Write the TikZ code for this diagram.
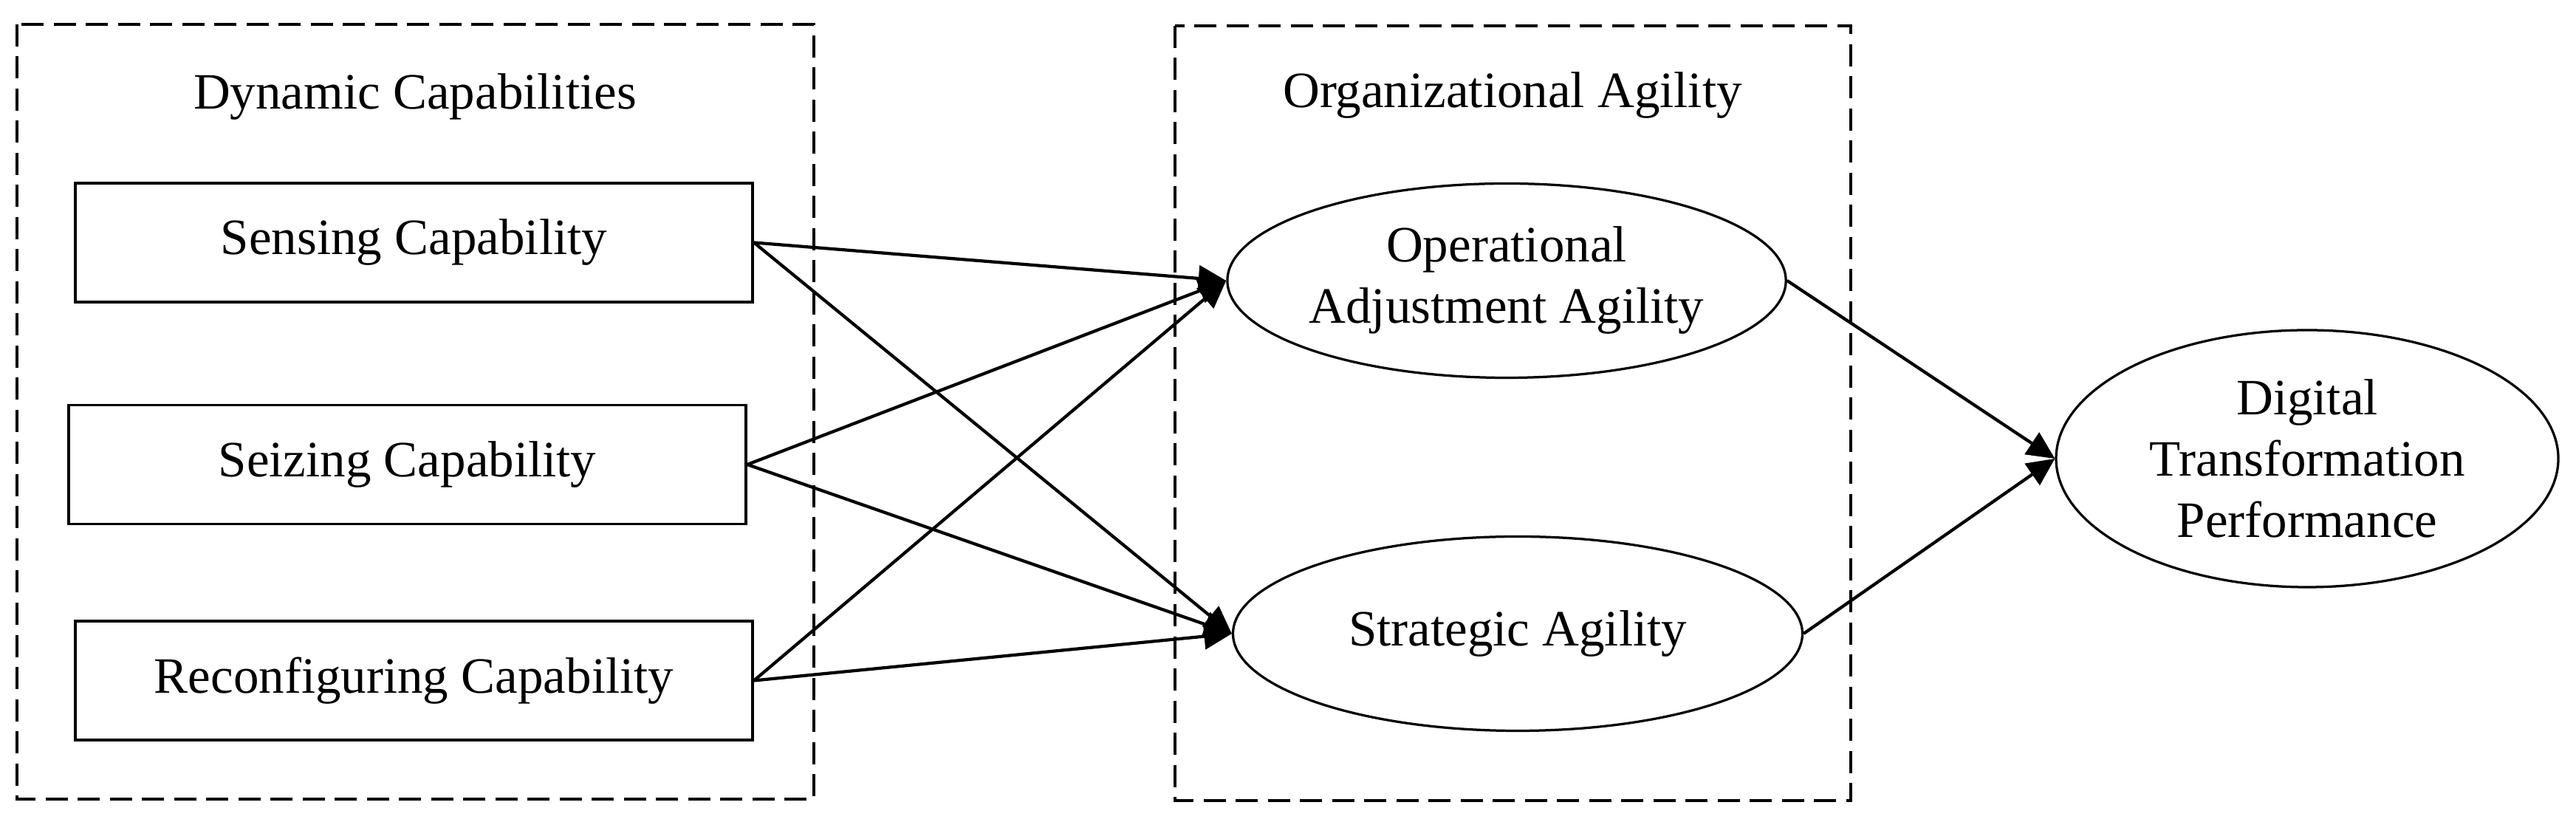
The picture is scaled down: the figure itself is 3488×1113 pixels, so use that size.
\documentclass[tikz,border=0pt]{standalone}
\usepackage{fontspec}
\setmainfont{Liberation Serif}
\usetikzlibrary{shapes.geometric,arrows.meta}
\begin{document}
\begin{tikzpicture}[x=0.2pt,y=-0.2pt,
  every node/.style={font=\fontsize{13.8pt}{16.6pt}\selectfont},
  capbox/.style={draw,line width=0.75pt,minimum width=183.4pt,minimum height=32.2pt,inner sep=0pt},
  latent/.style={draw,ellipse,line width=0.65pt,inner sep=0pt,align=center},
  groupbox/.style={draw,line width=0.8pt,dash pattern=on 6pt off 2.7pt},
  path/.style={line width=0.85pt,-{Triangle[length=7.5pt,width=7pt]}}
]
\useasboundingbox (0,0) rectangle (3488,1113);
\fill[white] (0,0) rectangle (3488,1113);
% group boxes
\draw[groupbox] (23,33) rectangle (1102,1082);
\draw[groupbox] (1591,35) rectangle (2506,1084);
\node[anchor=base] (t1) at (562,148) {Dynamic Capabilities};
\node[anchor=base] (t2) at (2048,146) {Organizational Agility};
% capability boxes
\node[capbox] (sen) at (560.5,328.5) {Sensing Capability};
\node[capbox] (sei) at (551.5,629) {Seizing Capability};
\node[capbox] (rec) at (560.5,921.5) {Reconfiguring Capability};
% latent variables
\node[latent,minimum width=151.2pt,minimum height=52.6pt] (oaa) at (2040,380) {Operational\\Adjustment Agility};
\node[latent,minimum width=154.2pt,minimum height=52.6pt] (sa) at (2055,858) {Strategic Agility};
\node[latent,minimum width=136pt,minimum height=69.6pt] (dtp) at (3124,621) {Digital\\Transformation\\Performance};
% paths
\draw[path] (sen.east) -- (oaa.west);
\draw[path] (sen.east) -- (sa.west);
\draw[path] (sei.east) -- (oaa.west);
\draw[path] (sei.east) -- (sa.west);
\draw[path] (rec.east) -- (oaa.west);
\draw[path] (rec.east) -- (sa.west);
\draw[path] (oaa.east) -- (dtp.west);
\draw[path] (sa.east) -- (dtp.west);
\end{tikzpicture}
\end{document}
